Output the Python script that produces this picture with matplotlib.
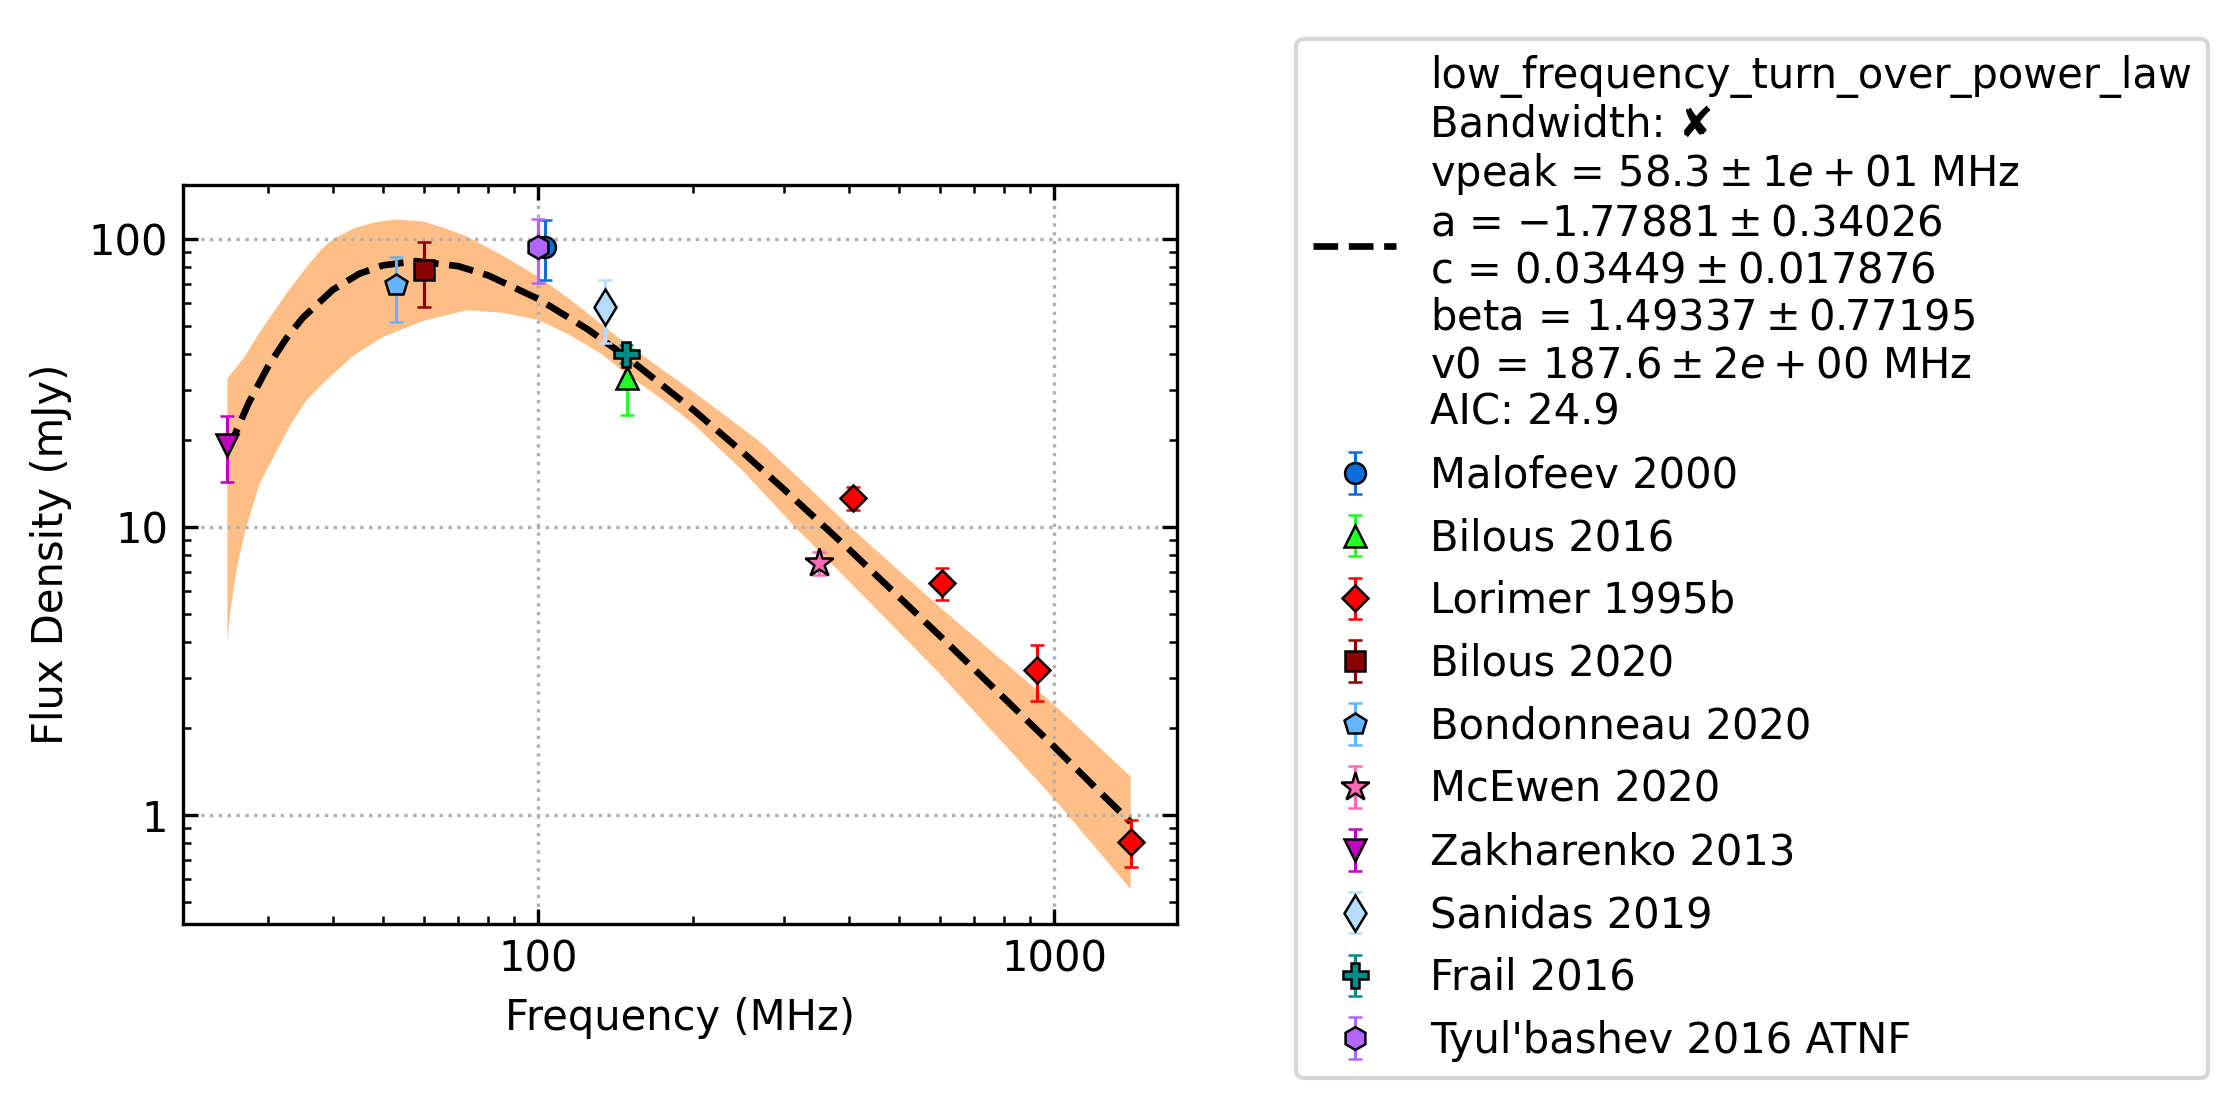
import matplotlib
matplotlib.use("Agg")
import matplotlib.pyplot as plt
from matplotlib.ticker import FormatStrFormatter, NullFormatter

# fitted model line
fit_freq = [25, 27.5, 30, 32.5, 35, 40, 45, 50, 58, 70, 80, 100, 125, 150, 200, 250, 300, 400, 600, 800, 1000, 1200, 1408]
fit_flux = [18.3, 27.0, 36.2, 45.1, 53.3, 66.6, 75.7, 81.0, 83.8, 80.5, 74.8, 62.0, 48.5, 38.4, 25.5, 18.1, 13.5, 8.39, 4.20, 2.55, 1.73, 1.25, 0.946]

# uncertainty band (upper / lower edge)
hi_freq = [25, 27, 29, 31, 33, 35.6, 38, 40.1, 44, 48, 53, 60, 66, 72.8, 85, 100, 115, 132, 148, 175, 200, 269, 315, 403, 600, 1000, 1408]
band_hi = [32.8, 39, 48, 57, 67, 80, 92, 100, 109, 114, 117, 115, 109, 102, 88, 74, 62, 51, 43.4, 35, 29.5, 19.8, 15.2, 10.0, 5.28, 2.42, 1.36]
lo_freq = [25, 25.3, 26.1, 27.2, 28.9, 31.2, 33.3, 35.6, 38.9, 44, 50.2, 60, 72.8, 85, 100, 115, 132, 148, 175, 200, 250, 315, 400, 600, 1000, 1408]
band_lo = [4.05, 5.0, 7.3, 10.0, 14.2, 18.5, 23, 27.6, 32.4, 39.5, 45.8, 52, 56.6, 55.5, 52.4, 46.5, 40.1, 34.2, 27.5, 22.8, 15.6, 10.0, 6.5, 3.1, 1.14, 0.553]

fit_label = ("low_frequency_turn_over_power_law\n"
             "Bandwidth: \u2718\n"
             "vpeak = $58.3 \\pm 1e+01$ MHz\n"
             "a = $-1.77881 \\pm 0.34026$\n"
             "c = $0.03449 \\pm 0.017876$\n"
             "beta = $1.49337 \\pm 0.77195$\n"
             "v0 = $187.6 \\pm 2e+00$ MHz\n"
             "AIC: 24.9")

# measurements
names = ["Malofeev 2000", "Bilous 2016", "Lorimer 1995b", "Bilous 2020", "Bondonneau 2020",
         "McEwen 2020", "Zakharenko 2013", "Sanidas 2019", "Frail 2016", "Tyul'bashev 2016 ATNF"]
freqs = [[103], [149], [408, 606, 925, 1408], [60], [53], [350], [25], [135], [148], [100]]
fluxes = [[94], [33], [12.6, 6.4, 3.2, 0.81], [78], [69], [7.5], [19.3], [58], [40], [94]]
errs = [[22], [8.6], [1.15, 0.8, 0.7, 0.15], [20], [17.5], [0.7], [5], [14.3], [3], [23.5]]
markers = ["o", "^", "D", "s", "p", "*", "v", "d", "P", "h"]
colors = ["#0a6fdb", "#22ff22", "#ff0000", "#8b0000", "#66b3ff",
          "#ff69b4", "#c000c0", "#b8dcff", "#008b8b", "#b266ff"]
sizes = [5, 5.5, 4.5, 5, 5.5, 7, 5.5, 6, 6, 5.5]

fig = plt.figure(figsize=(2236 / 300, 1109 / 300), dpi=300)
ax = fig.add_axes([0.0818, 0.1668, 0.4446, 0.6664])

# the band: upper edge out, lower edge back
ax.fill(hi_freq + lo_freq[::-1], band_hi + band_lo[::-1], color="C1", alpha=0.5, lw=0)
ax.plot(fit_freq, fit_flux, "k--", lw=1.6, label=fit_label)

for n, f, s, e, m, c, ms in zip(names, freqs, fluxes, errs, markers, colors, sizes):
    ax.errorbar(f, s, yerr=e, fmt=m, color=c, ms=ms, mec="black", mew=0.6,
                elinewidth=0.75, capsize=1.6, capthick=0.75, label=n)

ax.set_xscale("log")
ax.set_yscale("log")
ax.set_xlim(20.5, 1731)
ax.set_ylim(0.419, 154)
ax.xaxis.set_major_formatter(FormatStrFormatter("%g"))
ax.yaxis.set_major_formatter(FormatStrFormatter("%g"))
ax.xaxis.set_minor_formatter(NullFormatter())
ax.yaxis.set_minor_formatter(NullFormatter())
ax.tick_params(which="both", direction="in", top=True, right=True, labelsize=10)
ax.grid(True, which="major", ls=":", color="#b0b0b0", lw=0.8)
ax.set_xlabel("Frequency (MHz)", fontsize=10)
ax.set_ylabel("Flux Density (mJy)", fontsize=10)

leg = ax.legend(loc="center left", bbox_to_anchor=(0.5705, 0.4964), bbox_transform=fig.transFigure,
                fontsize=10)
for t in leg.get_texts():
    t.set_linespacing(1.16)

fig.savefig("out.png", dpi=300)
